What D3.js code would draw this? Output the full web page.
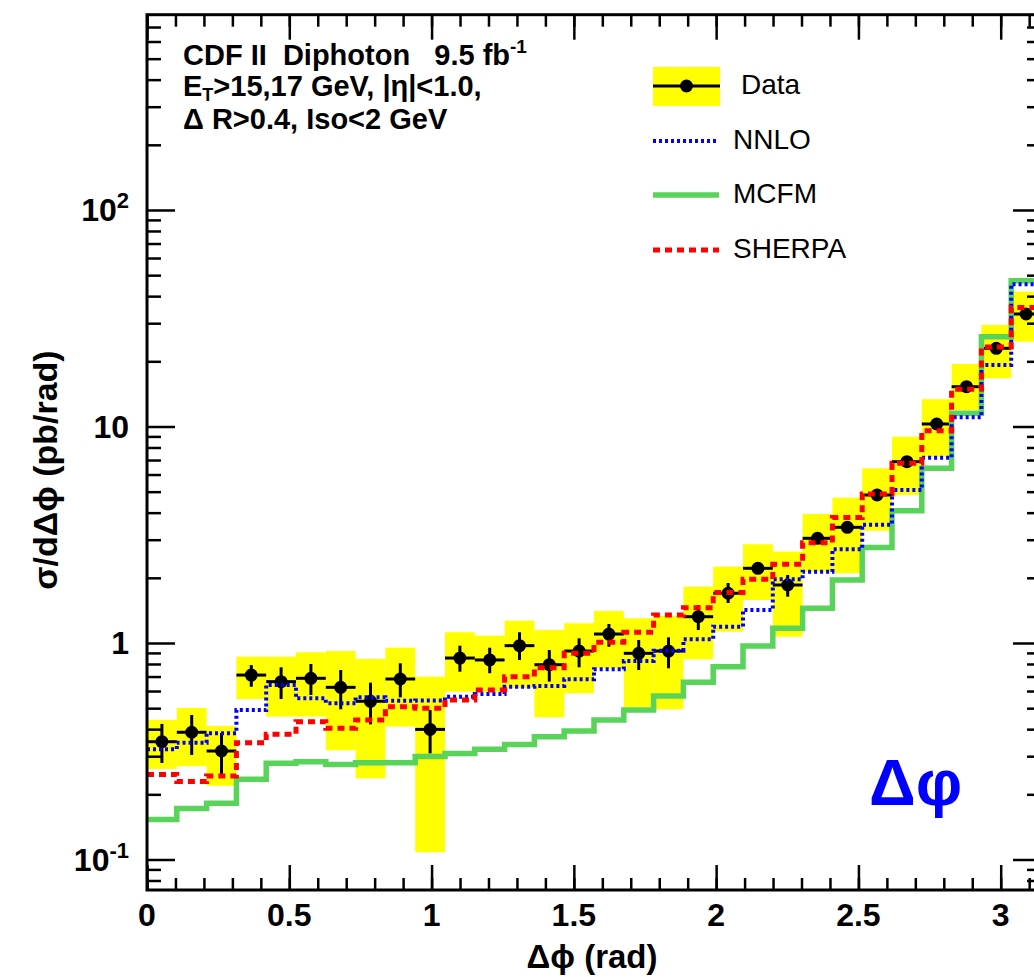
<!DOCTYPE html>
<html>
<head>
<meta charset="utf-8">
<script src="https://cdn.jsdelivr.net/npm/d3@7"></script>
<style>
  body { margin: 0; background: #fff; }
  svg text { font-family: 'Liberation Sans', Arial, Helvetica, sans-serif; white-space: pre; }
</style>
</head>
<body>
<svg id="chart" width="1034" height="977"></svg>
<script>
// ---- data (30 bins in dphi from 0 to pi) ----
const nBins = 30;
const dataVal = [0.350, 0.387, 0.317, 0.711, 0.663, 0.687, 0.624, 0.538, 0.682, 0.399,
                 0.852, 0.835, 0.972, 0.794, 0.918, 1.100, 0.896, 0.918, 1.323, 1.697,
                 2.213, 1.853, 3.045, 3.422, 4.826, 6.878, 10.27, 15.27, 22.97, 33.08];
const statHi = [0.423, 0.465, 0.384, 0.791, 0.772, 0.800, 0.750, 0.656, 0.806, 0.490,
                0.972, 0.951, 1.121, 0.928, 1.051, 1.224, 1.032, 1.062, 1.498, 1.893,
                2.30, 2.061, 3.15, 3.55, 4.98, 7.08, 10.55, 15.65, 23.5, 33.8];
const statLo = [0.279, 0.304, 0.246, 0.628, 0.551, 0.575, 0.494, 0.421, 0.561, 0.309,
                0.737, 0.725, 0.835, 0.663, 0.772, 0.961, 0.750, 0.764, 1.148, 1.530,
                2.13, 1.636, 2.94, 3.30, 4.68, 6.68, 9.99, 14.9, 22.45, 32.4];
const sysHi = [0.441, 0.501, 0.414, 0.864, 0.864, 0.906, 0.918, 0.844, 0.951, 0.699,
               1.121, 1.081, 1.268, 1.148, 1.233, 1.405, 1.300, 1.332, 1.82, 2.251,
               2.857, 2.641, 3.944, 4.69, 6.41, 8.97, 13.36, 19.44, 29.43, 41.95];
const sysLo = [0.262, 0.270, 0.219, 0.551, 0.457, 0.457, 0.320, 0.237, 0.411, 0.108,
               0.596, 0.596, 0.618, 0.454, 0.586, 0.764, 0.505, 0.494, 0.841, 1.128,
               1.58, 1.069, 2.135, 2.10, 3.30, 4.83, 7.25, 11.92, 16.70, 24.65];
const nnlo = [0.323, 0.346, 0.383, 0.490, 0.640, 0.555, 0.527, 0.561, 0.541, 0.543,
              0.565, 0.581, 0.628, 0.633, 0.680, 0.756, 0.826, 0.921, 1.040, 1.189,
              1.420, 1.969, 2.135, 2.709, 3.52, 5.09, 7.175, 11.03, 19.23, 45.43];
const mcfm = [0.153, 0.172, 0.182, 0.235, 0.278, 0.283, 0.275, 0.280, 0.280, 0.299,
              0.309, 0.323, 0.340, 0.369, 0.392, 0.441, 0.490, 0.569, 0.658, 0.777,
              0.969, 1.169, 1.446, 1.954, 2.761, 4.084, 6.41, 11.51, 25.99, 47.15];
const sherpa = [0.247, 0.229, 0.243, 0.346, 0.379, 0.433, 0.404, 0.441, 0.508, 0.499,
                0.545, 0.607, 0.699, 0.769, 0.896, 1.007, 1.121, 1.347, 1.456, 1.711,
                1.969, 2.31, 2.906, 3.80, 4.88, 6.76, 9.56, 14.85, 23.29, 35.45];

const xMajor = [0, 0.5, 1, 1.5, 2, 2.5, 3];
const xTickLabels = ['0', '0.5', '1', '1.5', '2', '2.5', '3'];
const yMajor = [0.1, 1, 10, 100];
const yTickLabels = [['10', '-1'], ['1', ''], ['10', ''], ['10', '2']];
const legendLabels = ['Data', 'NNLO', 'MCFM', 'SHERPA'];

const svg = d3.select('#chart');
const plot = {x1: 147, x2: 1041, y1: 14.7, y2: 890};

const x = d3.scaleLinear().domain([0, Math.PI]).range([plot.x1, plot.x2]);
const y = d3.scaleLog().domain([0.0723, 798]).range([plot.y2, plot.y1]);

const edges = d3.range(nBins + 1).map(i => i * Math.PI / nBins);
const bins = d3.range(nBins).map(i => ({
	lo: edges[i], hi: edges[i + 1], mid: (edges[i] + edges[i + 1]) / 2,
	v: dataVal[i], sLo: statLo[i], sHi: statHi[i], yLo: sysLo[i], yHi: sysHi[i]
}));

svg.append('defs').append('clipPath').attr('id', 'clip')
	.append('rect')
	.attr('x', plot.x1).attr('y', plot.y1)
	.attr('width', plot.x2 - plot.x1).attr('height', plot.y2 - plot.y1);

const g = svg.append('g').attr('clip-path', 'url(#clip)');

// yellow total-uncertainty boxes
g.selectAll('.sys').data(bins).enter()
	.append('rect')
	.attr('class', 'sys')
	.attr('x', d => x(d.lo))
	.attr('width', d => x(d.hi) - x(d.lo))
	.attr('y', d => y(d.yHi))
	.attr('height', d => y(d.yLo) - y(d.yHi))
	.attr('fill', '#ffff00');

// data points with stat bars
const pts = g.selectAll('.pt').data(bins).enter().append('g').attr('class', 'pt');
pts.append('line')
	.attr('x1', d => x(d.lo)).attr('x2', d => x(d.hi))
	.attr('y1', d => y(d.v)).attr('y2', d => y(d.v))
	.attr('stroke', '#000').attr('stroke-width', 3);
pts.append('line')
	.attr('x1', d => x(d.mid)).attr('x2', d => x(d.mid))
	.attr('y1', d => y(d.sHi)).attr('y2', d => y(d.sLo))
	.attr('stroke', '#000').attr('stroke-width', 3);
pts.append('circle')
	.attr('cx', d => x(d.mid)).attr('cy', d => y(d.v))
	.attr('r', 6.5).attr('fill', '#000');

// theory histograms
const step = d3.line().x(d => x(d[0])).y(d => y(d[1]));
function histPts(vals) {
	return vals.flatMap((v, i) => [[edges[i], v], [edges[i + 1], v]]);
}
const series = [
	{vals: mcfm, color: '#5ad35a', width: 5.5, dash: null},
	{vals: nnlo, color: '#0000ff', width: 4, dash: '3,3'},
	{vals: sherpa, color: '#ff0000', width: 5, dash: '7,5'}
];
series.forEach(s => {
	g.append('path')
		.datum(histPts(s.vals))
		.attr('d', step)
		.attr('fill', 'none')
		.attr('stroke', s.color)
		.attr('stroke-width', s.width)
		.attr('stroke-dasharray', s.dash);
});

// frame
svg.append('rect')
	.attr('x', plot.x1).attr('y', plot.y1)
	.attr('width', plot.x2 - plot.x1).attr('height', plot.y2 - plot.y1)
	.attr('fill', 'none').attr('stroke', '#000').attr('stroke-width', 3);

// ticks (all inward)
const xMinor = d3.range(0, 32).map(i => i / 10);
const yMinor = [];
[-2, -1, 0, 1, 2].forEach(p => d3.range(2, 10).forEach(k => {
	const v = k * Math.pow(10, p);
	if (v > y.domain()[0] && v < y.domain()[1]) yMinor.push(v);
}));

function ticks(axis, tx, ty) {
	const a = svg.append('g').attr('transform', 'translate(' + tx + ',' + ty + ')').call(axis);
	a.select('.domain').remove();
	a.selectAll('line').attr('stroke', '#000').attr('stroke-width', 2.5);
	a.selectAll('text').remove();
}
ticks(d3.axisBottom(x).tickValues(xMinor).tickSizeInner(-12).tickSizeOuter(0), 0, plot.y2);
ticks(d3.axisBottom(x).tickValues(xMajor).tickSizeInner(-25).tickSizeOuter(0), 0, plot.y2);
ticks(d3.axisTop(x).tickValues(xMinor).tickSizeInner(-12).tickSizeOuter(0), 0, plot.y1);
ticks(d3.axisTop(x).tickValues(xMajor).tickSizeInner(-25).tickSizeOuter(0), 0, plot.y1);
ticks(d3.axisLeft(y).tickValues(yMinor).tickSizeInner(-14).tickSizeOuter(0), plot.x1, 0);
ticks(d3.axisLeft(y).tickValues(yMajor).tickSizeInner(-28).tickSizeOuter(0), plot.x1, 0);
ticks(d3.axisRight(y).tickValues(yMinor).tickSizeInner(-14).tickSizeOuter(0), plot.x2, 0);
ticks(d3.axisRight(y).tickValues(yMajor).tickSizeInner(-28).tickSizeOuter(0), plot.x2, 0);

// tick labels
svg.selectAll('.xlab').data(xMajor).enter()
	.append('text')
	.attr('x', d => x(d)).attr('y', 926)
	.attr('text-anchor', 'middle')
	.attr('font-size', 32).attr('font-weight', 'bold')
	.text((d, i) => xTickLabels[i]);

const ylab = svg.selectAll('.ylab').data(yMajor).enter()
	.append('text')
	.attr('x', 129).attr('y', d => y(d) + 11.5)
	.attr('text-anchor', 'end')
	.attr('font-size', 32).attr('font-weight', 'bold');
ylab.append('tspan').text((d, i) => yTickLabels[i][0]);
ylab.append('tspan')
	.attr('font-size', 22).attr('dy', -13)
	.text((d, i) => yTickLabels[i][1]);

// axis titles
svg.append('text')
	.attr('x', 592).attr('y', 968)
	.attr('text-anchor', 'middle')
	.attr('font-size', 33).attr('font-weight', 'bold')
	.text('Δϕ (rad)');
svg.append('text')
	.attr('transform', 'translate(57,470) rotate(-90)')
	.attr('text-anchor', 'middle')
	.attr('font-size', 34).attr('font-weight', 'bold')
	.text('σ/dΔϕ (pb/rad)');

// info text
const info = svg.append('g').attr('font-size', 29).attr('font-weight', 'bold');
const l1 = info.append('text').attr('x', 183).attr('y', 65);
l1.append('tspan').text('CDF II  Diphoton   9.5 fb');
l1.append('tspan').attr('font-size', 19).attr('dy', -12).text('-1');
const l2 = info.append('text').attr('x', 183).attr('y', 96);
l2.append('tspan').text('E');
l2.append('tspan').attr('font-size', 18).attr('dy', 5).text('T');
l2.append('tspan').attr('dy', -5).text('>15,17 GeV, |η|<1.0,');
info.append('text').attr('x', 183).attr('y', 129).text('Δ R>0.4, Iso<2 GeV');

// legend
const leg = svg.append('g');
const legY = [86, 141, 195, 250];
leg.append('rect').attr('x', 653).attr('y', 67).attr('width', 67).attr('height', 39).attr('fill', '#ffff00');
leg.append('line').attr('x1', 653).attr('x2', 720).attr('y1', legY[0]).attr('y2', legY[0])
	.attr('stroke', '#000').attr('stroke-width', 3);
leg.append('circle').attr('cx', 686.5).attr('cy', legY[0]).attr('r', 6.5).attr('fill', '#000');
[series[1], series[0], series[2]].forEach((s, i) => {
	leg.append('line')
		.attr('x1', 653).attr('x2', 719)
		.attr('y1', legY[i + 1]).attr('y2', legY[i + 1])
		.attr('stroke', s.color).attr('stroke-width', s.width)
		.attr('stroke-dasharray', s.dash);
});
leg.selectAll('.legtxt').data(legendLabels).enter()
	.append('text')
	.attr('x', (d, i) => i === 0 ? 741 : 733)
	.attr('y', (d, i) => legY[i] + 8)
	.attr('font-size', 28)
	.text(d => d);

// big label
svg.append('text')
	.attr('x', 869).attr('y', 805)
	.attr('font-size', 65).attr('font-weight', 'bold')
	.attr('fill', '#0000ff')
	.text('Δφ');
</script>
</body>
</html>
